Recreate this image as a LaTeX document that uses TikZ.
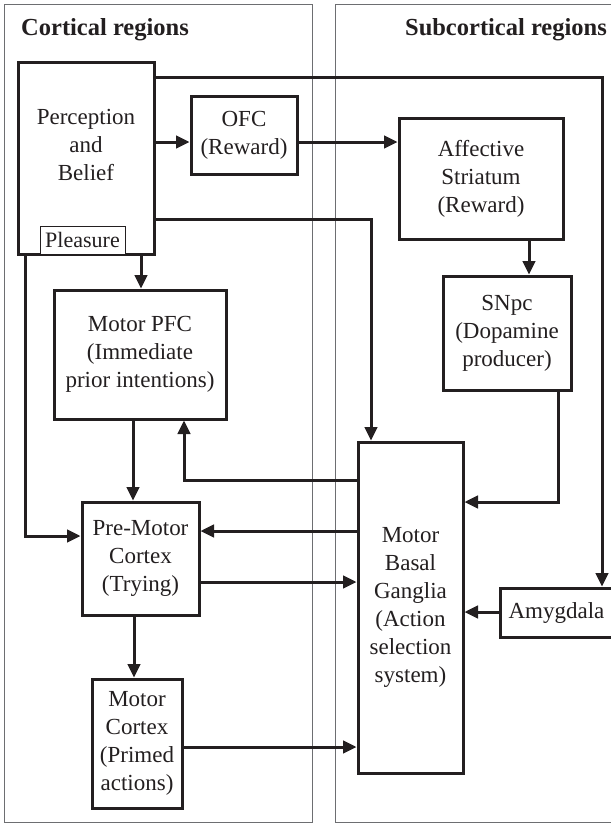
\documentclass[tikz,border=0pt]{standalone}
\usepackage{fontspec}
\setmainfont{Liberation Serif}
\usetikzlibrary{arrows.meta}
\definecolor{ink}{HTML}{231F20}
\definecolor{panelgray}{HTML}{6D6E71}
\begin{document}
\begin{tikzpicture}[x=1pt,y=-1pt,
  txt/.style={font=\fontsize{23}{28}\selectfont, text=ink, align=center, inner sep=0pt},
  head/.style={font=\fontsize{24.5}{28}\selectfont\bfseries, text=ink, inner sep=0pt},
  region/.style={draw=panelgray, line width=1pt},
  box/.style={txt, draw=ink, line width=3pt, fill=white},
  tag/.style={txt, font=\fontsize{22}{28}\selectfont, draw=ink, line width=1pt, fill=white},
  conn/.style={draw=ink, line width=3pt, -{Triangle[length=13.5pt,width=12.5pt]}}]
\useasboundingbox (0,0) rectangle (611,823);

% region panels
\draw[region] (4,4) rectangle (312,822);
\draw[region] (335,4) rectangle (622,822);
\node[head, anchor=base west] (hcort) at (21,35) {Cortical regions};
\node[head, anchor=base east] (hsub) at (607,35) {Subcortical regions};

% boxes
\node[box, minimum width=136pt, minimum height=192pt] (PB) at (86,158) {};
\node[txt] (PBtext) at (86,145) {Perception\\and\\Belief};
\node[tag, minimum width=85pt, minimum height=28pt] (PL) at (82.5,240) {Pleasure};
\node[box, minimum width=106pt, minimum height=78pt] (OFC) at (244,135) {OFC\\(Reward)};
\node[box, minimum width=164pt, minimum height=121pt] (AS) at (481,178.5) {Affective\\Striatum\\(Reward)};
\node[box, minimum width=128pt, minimum height=114pt] (SNpc) at (507,333) {SNpc\\(Dopamine\\producer)};
\node[box, minimum width=172pt, minimum height=129pt] (MPFC) at (140,354.5) {Motor PFC\\(Immediate\\prior intentions)};
\node[box, minimum width=117pt, minimum height=113pt] (PM) at (140.5,558.5) {Pre-Motor\\Cortex\\(Trying)};
\node[box, minimum width=90pt, minimum height=129pt] (MC) at (137,743.5) {Motor\\Cortex\\(Primed\\actions)};
\node[box, minimum width=105pt, minimum height=331pt] (BG) at (410.5,607.5) {Motor\\Basal\\Ganglia\\(Action\\selection\\system)};
\node[box, minimum width=113pt, minimum height=49pt] (Amyg) at (556.5,612.5) {Amygdala};

% bend points and routing rows/columns
\coordinate (k1) at (602,77);
\coordinate (k2) at (0,142);
\coordinate (k3) at (371,219);
\coordinate (k4) at (529,0);
\coordinate (k5) at (558,502);
\coordinate (k6) at (141,0);
\coordinate (k7) at (25,536);
\coordinate (k8) at (133,0);
\coordinate (k9) at (184,480);
\coordinate (k10) at (0,531);
\coordinate (k11) at (0,582);
\coordinate (k12) at (134,0);
\coordinate (k13) at (0,747);
\coordinate (k14) at (0,612);

% connectors
\draw[conn] (PB.east |- k1) -- (k1) -- (Amyg.north -| k1);
\draw[conn] (PB.east |- k2) -- (OFC.west |- k2);
\draw[conn] (OFC.east |- k2) -- (AS.west |- k2);
\draw[conn] (PB.east |- k3) -- (k3) -- (BG.north -| k3);
\draw[conn] (AS.south -| k4) -- (SNpc.north -| k4);
\draw[conn] (SNpc.south -| k5) -- (k5) -- (BG.east |- k5);
\draw[conn] (PB.south -| k6) -- (MPFC.north -| k6);
\draw[conn] (PB.south -| k7) -- (k7) -- (PM.west |- k7);
\draw[conn] (MPFC.south -| k8) -- (PM.north -| k8);
\draw[conn] (BG.west |- k9) -- (k9) -- (MPFC.south -| k9);
\draw[conn] (BG.west |- k10) -- (PM.east |- k10);
\draw[conn] (PM.east |- k11) -- (BG.west |- k11);
\draw[conn] (PM.south -| k12) -- (MC.north -| k12);
\draw[conn] (MC.east |- k13) -- (BG.west |- k13);
\draw[conn] (Amyg.west |- k14) -- (BG.east |- k14);
\end{tikzpicture}
\end{document}
